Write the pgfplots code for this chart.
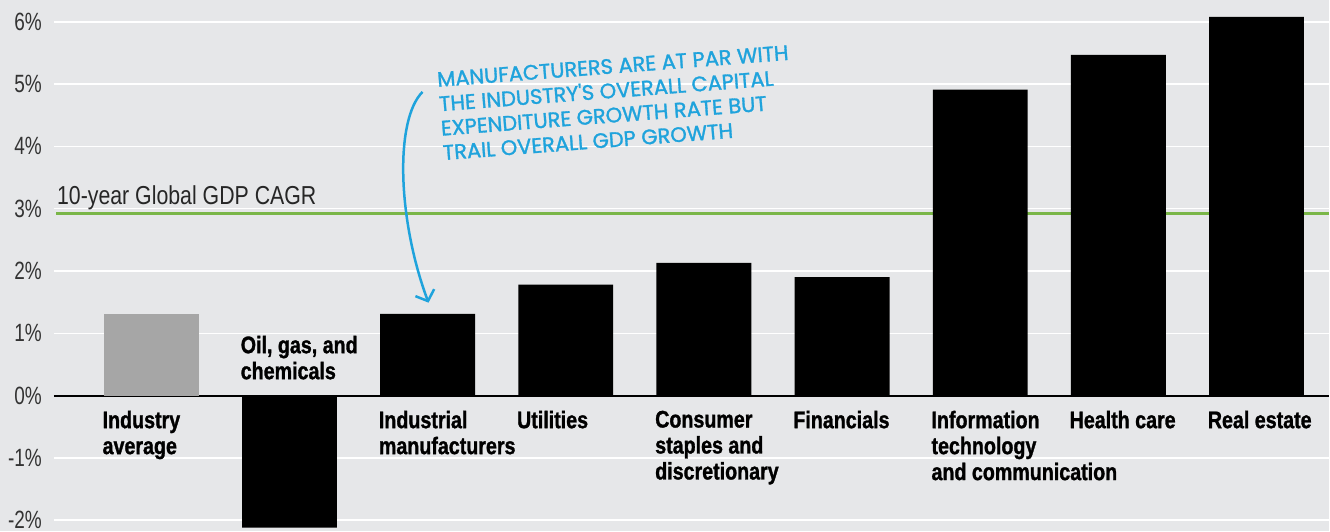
\documentclass[border=0pt]{standalone}
\usepackage{pgfplots}
\pgfplotsset{compat=1.18}
\usepackage{fontspec}
\setmainfont{Liberation Sans}[FakeStretch=0.82]
\newfontfamily\tickfont{Liberation Sans}[FakeStretch=0.76]
\newfontfamily\labfont{Liberation Sans Bold}[FakeStretch=0.82, FakeBold=1.2]
\newfontfamily\handfont{Poppins}[FakeBold=1.4]
\usetikzlibrary{arrows.meta}
\definecolor{bg}{HTML}{E6E7E9}
\definecolor{gdp}{HTML}{7AB648}
\definecolor{ann}{HTML}{1FA3DC}
\definecolor{avg}{HTML}{A6A6A6}
\definecolor{tickc}{HTML}{333333}
\begin{document}
\begin{tikzpicture}[lab/.style={font=\labfont\fontsize{24}{26}\selectfont, align=left, inner sep=0pt}]
\fill[bg] (-54pt,0pt) rectangle (1276pt,532pt);
\begin{axis}[
  scale only axis, width=1276pt, height=532pt,
  xmin=-0.705, xmax=8.521, ymin=-2.18, ymax=6.35,
  axis line style={draw=none},
  ybar, bar width=95pt, bar shift=0pt,
  ytick={-2,-1,0,1,2,3,4,5,6},
  yticklabels={-2\%,-1\%,0\%,1\%,2\%,3\%,4\%,5\%,6\%},
  xtick=\empty,
  major tick length=0pt,
  ymajorgrids, grid style={white, line width=1.5pt},
  yticklabel style={font=\tickfont\fontsize{25}{25}\selectfont, text=tickc, inner sep=0pt, xshift=-12pt, anchor=east},
  clip=false,
]
\draw[black, line width=2pt] (axis cs:-0.705,0) -- (axis cs:8.521,0);
\draw[gdp, line width=3pt] (axis cs:-0.69,2.92) -- (axis cs:8.521,2.92);
\addplot[fill=avg, draw=none] coordinates {(0,1.31)};
\addplot[fill=black, draw=none] coordinates {(1,-2.12) (2,1.31) (3,1.78) (4,2.13) (5,1.90) (6,4.91) (7,5.47) (8,6.08)};
\node[lab, anchor=north west, yshift=-15pt] at (axis cs:-0.354,0) {Industry\\average};
\node[lab, anchor=south west, yshift=16pt] at (axis cs:0.646,0) {Oil, gas, and\\chemicals};
\node[lab, anchor=north west, yshift=-15pt] at (axis cs:1.646,0) {Industrial\\manufacturers};
\node[lab, anchor=north west, yshift=-15pt] at (axis cs:2.646,0) {Utilities};
\node[lab, anchor=north west, yshift=-15pt] at (axis cs:3.646,0) {Consumer\\staples and\\discretionary};
\node[lab, anchor=north west, yshift=-15pt] at (axis cs:4.646,0) {Financials};
\node[lab, anchor=north west, yshift=-15pt] at (axis cs:5.646,0) {Information\\technology\\and communication};
\node[lab, anchor=north west, yshift=-15pt] at (axis cs:6.646,0) {Health care};
\node[lab, anchor=north west, yshift=-15pt] at (axis cs:7.646,0) {Real estate};
\end{axis}
\node[anchor=base west, inner sep=0pt, text=black!85, font=\fontsize{26}{26}\selectfont] at (3pt,327pt) {10-year Global GDP CAGR};
\node[anchor=north west, inner sep=0pt, rotate=4.4, text=ann, align=left,
      font=\handfont\fontsize{21}{24.5}\selectfont] at (383pt,460pt)
  {MANUFACTURERS ARE AT PAR WITH\\THE INDUSTRY'S OVERALL CAPITAL\\EXPENDITURE GROWTH RATE BUT\\TRAIL OVERALL GDP GROWTH};
\draw[ann, line width=2.5pt, -{Straight Barb[length=9pt,width=20pt]}]
  (369pt,440pt) .. controls (341pt,412pt) and (344pt,312pt) .. (375pt,229pt);
\end{tikzpicture}
\end{document}
